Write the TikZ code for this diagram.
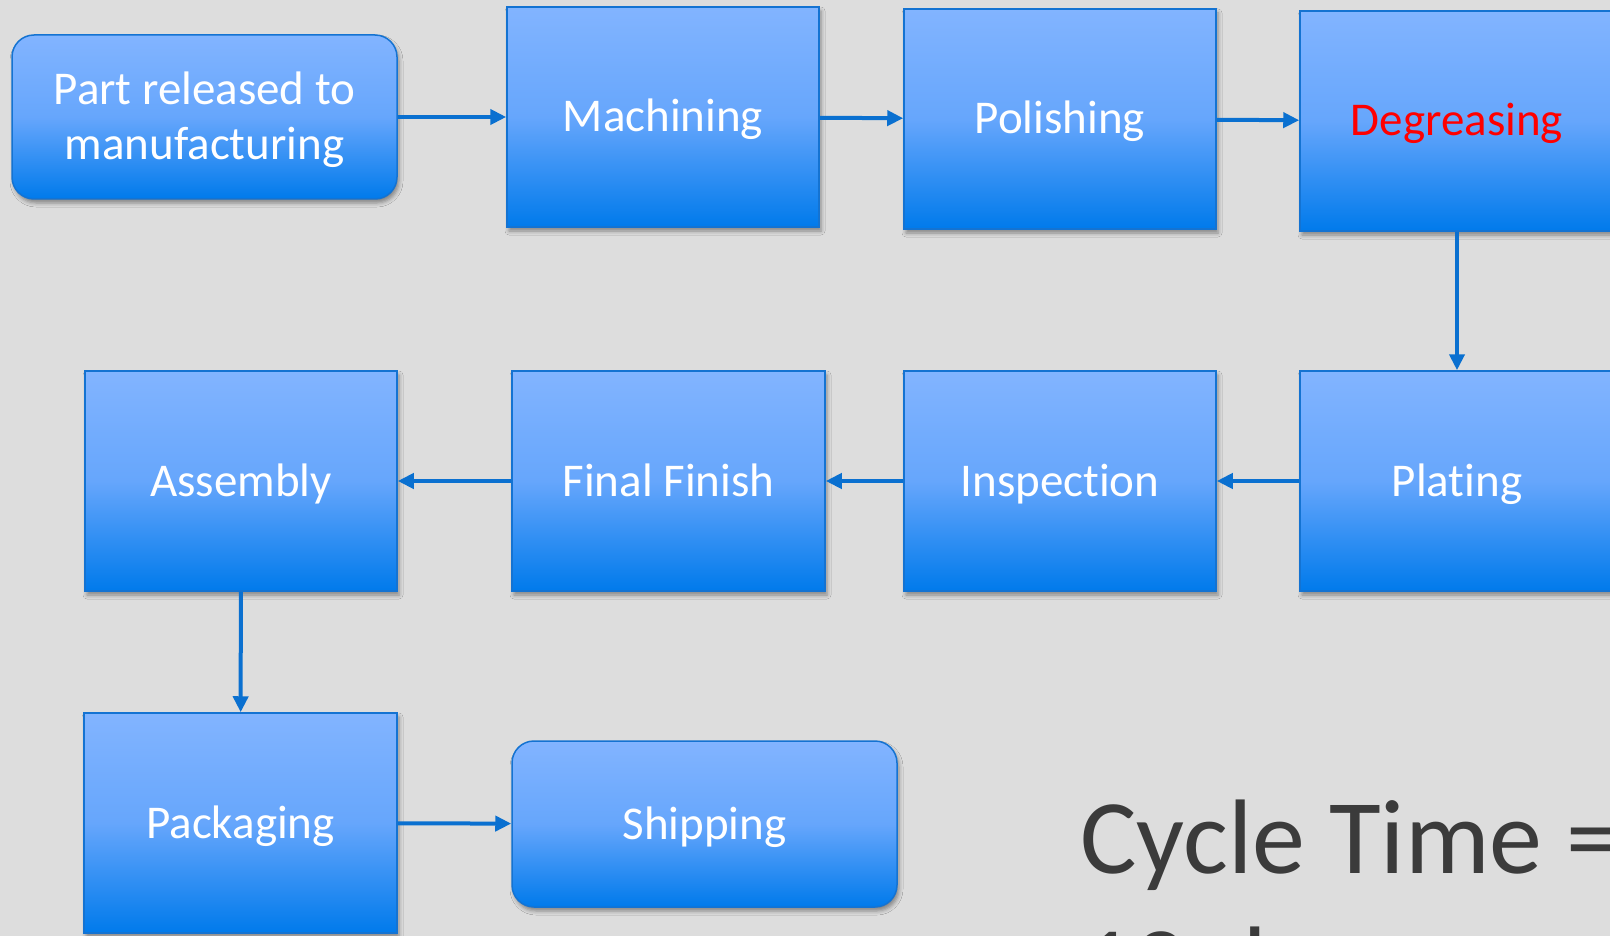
\documentclass[tikz,border=0pt]{standalone}
\usepackage{fontspec}
\setmainfont{Carlito}[Ligatures=NoCommon]
\usetikzlibrary{arrows.meta,shadows.blur}
\definecolor{bgc}{RGB}{221,221,221}
\definecolor{boxtop}{RGB}{130,180,255}
\definecolor{boxmid}{RGB}{102,166,252}
\definecolor{boxbot}{RGB}{0,122,235}
\definecolor{boxline}{RGB}{20,115,210}
\definecolor{arr}{RGB}{10,112,208}
\definecolor{txt}{RGB}{59,59,59}
\begin{document}
\begin{tikzpicture}[x=1pt, y=-1pt,
  stepbox/.style={draw=boxline, line width=1.5pt, top color=boxtop, bottom color=boxbot, middle color=boxmid,
    text=white, font=\fontsize{47}{55}\selectfont, align=center, inner sep=0pt,
    text height=30pt, text depth=0pt,
    minimum width=312pt, minimum height=220pt,
    blur shadow={shadow xshift=2pt, shadow yshift=-4pt, shadow blur radius=4pt, shadow opacity=40}},
  endbox/.style={stepbox, rounded corners=22pt, minimum width=385pt, minimum height=164pt},
  flow/.style={draw=arr, line width=4pt, -{Triangle[length=16pt,width=15pt]}}]
        \clip (0,0) rectangle (1610,936);
        \fill[bgc] (0,0) rectangle (1610,936);
        % first row
        \node[endbox, text height=85pt] (s0) at (204.5,117){Part released to\\manufacturing};
        \node[stepbox] (s1) at (663,117){Machining};
        \node[stepbox] (s2) at (1060,119){Polishing};
        \node[stepbox, text=red, minimum width=314pt] (s3) at (1457,121){Degreasing};
        % second row
        \node[stepbox, minimum width=314pt] (s4) at (1457,481){Plating};
        \node[stepbox] (s5) at (1060,481){Inspection};
        \node[stepbox, minimum width=313pt] (s6) at (668.5,481){Final Finish};
        \node[stepbox] (s7) at (241,481){Assembly};
        % third row
        \node[stepbox, minimum width=313pt] (s8) at (240.5,823){Packaging};
        \node[endbox, minimum height=166pt] (s9) at (704.5,824){Shipping};
        \node[anchor=base west, inner sep=0pt, text=txt, font=\fontsize{106}{127}\selectfont] (ct1) at (1080,873){Cycle Time =};
        \node[anchor=base west, inner sep=0pt, text=txt, font=\fontsize{106}{127}\selectfont] (ct2) at (1080,1000){12 days};
        \draw[flow] (s0) -- (s1);
        \draw[flow] (s1) -- (s2);
        \draw[flow] (s2) -- (s3);
        \draw[flow] (s3) -- (s4);
        \draw[flow] (s4) -- (s5);
        \draw[flow] (s5) -- (s6);
        \draw[flow] (s6) -- (s7);
        \draw[flow] (s7) -- (s8);
        \draw[flow] (s8) -- (s9);
\end{tikzpicture}
\end{document}
